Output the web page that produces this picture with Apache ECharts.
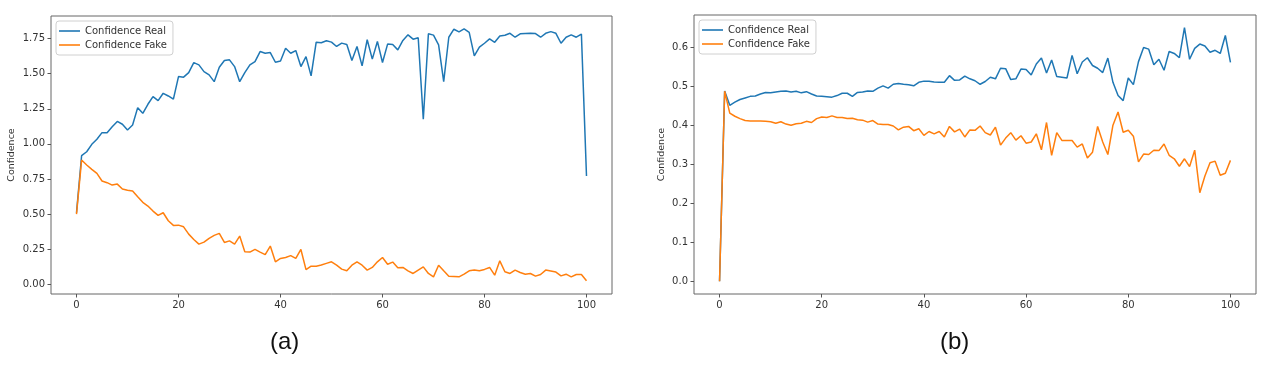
<!DOCTYPE html>
<html>
<head>
<meta charset="utf-8">
<script src="https://cdn.jsdelivr.net/npm/echarts@6/dist/echarts.min.js"></script>
<style>
html,body{margin:0;padding:0;background:#fff;}
#chart{width:1266px;height:369px;}
</style>
</head>
<body>
<div id="chart"></div>
<script>
const epochs = Array.from({length: 101}, (_, i) => i);
const xTicks = [0, 20, 40, 60, 80, 100];
const yTicksA = [0, 0.25, 0.5, 0.75, 1.0, 1.25, 1.5, 1.75];
const yTicksB = [0, 0.1, 0.2, 0.3, 0.4, 0.5, 0.6];
const seriesNames = ['Confidence Real', 'Confidence Fake'];
const panelLabels = ['(a)', '(b)'];

const realA = [0.51,0.916,0.944,0.997,1.033,1.08,1.08,1.122,1.16,1.14,
1.099,1.134,1.258,1.218,1.282,1.336,1.308,1.36,1.341,1.318,
1.479,1.475,1.507,1.578,1.562,1.514,1.491,1.443,1.545,1.593,
1.598,1.55,1.443,1.507,1.562,1.585,1.657,1.645,1.65,1.581,
1.59,1.68,1.645,1.664,1.55,1.621,1.484,1.724,1.72,1.734,
1.724,1.693,1.717,1.707,1.593,1.693,1.555,1.741,1.603,1.729,
1.579,1.71,1.707,1.669,1.736,1.776,1.745,1.755,1.175,1.783,
1.774,1.705,1.443,1.759,1.816,1.797,1.818,1.794,1.626,1.688,
1.716,1.747,1.723,1.768,1.773,1.787,1.759,1.783,1.785,1.787,
1.785,1.759,1.787,1.799,1.787,1.716,1.759,1.776,1.759,1.781,
0.771];

const fakeA = [0.50,0.885,0.85,0.819,0.79,0.736,0.724,0.707,0.714,0.679,
0.67,0.665,0.624,0.584,0.558,0.522,0.491,0.51,0.453,0.42,
0.422,0.41,0.358,0.32,0.287,0.301,0.328,0.349,0.363,0.299,
0.31,0.287,0.344,0.232,0.23,0.249,0.23,0.212,0.273,0.161,
0.185,0.192,0.205,0.185,0.249,0.105,0.13,0.13,0.138,0.15,
0.161,0.137,0.109,0.097,0.137,0.161,0.137,0.102,0.121,0.161,
0.192,0.144,0.159,0.118,0.121,0.097,0.078,0.102,0.125,0.078,
0.054,0.137,0.097,0.059,0.057,0.054,0.073,0.097,0.102,0.097,
0.107,0.121,0.066,0.168,0.09,0.078,0.102,0.085,0.073,0.078,
0.059,0.071,0.102,0.095,0.088,0.061,0.073,0.054,0.071,0.071,
0.026];

const realB = [0.0,0.488,0.451,0.459,0.466,0.47,0.474,0.475,0.48,0.484,
0.483,0.485,0.487,0.488,0.485,0.487,0.483,0.486,0.48,0.475,
0.474,0.473,0.472,0.476,0.482,0.482,0.474,0.484,0.485,0.488,
0.487,0.495,0.501,0.495,0.505,0.507,0.505,0.504,0.501,0.51,
0.513,0.513,0.511,0.51,0.51,0.527,0.515,0.516,0.526,0.519,
0.514,0.505,0.512,0.523,0.519,0.546,0.545,0.517,0.519,0.544,
0.543,0.529,0.557,0.572,0.534,0.567,0.525,0.523,0.521,0.579,
0.532,0.562,0.573,0.553,0.546,0.535,0.572,0.51,0.476,0.463,
0.521,0.504,0.563,0.599,0.595,0.555,0.569,0.541,0.589,0.584,
0.573,0.65,0.569,0.597,0.608,0.603,0.587,0.592,0.584,0.63,
0.561];

const fakeB = [0.0,0.487,0.431,0.423,0.417,0.412,0.411,0.411,0.411,0.41,
0.409,0.405,0.409,0.403,0.4,0.404,0.405,0.41,0.407,0.417,
0.421,0.42,0.424,0.42,0.42,0.417,0.418,0.414,0.413,0.408,
0.412,0.403,0.402,0.402,0.398,0.388,0.395,0.397,0.386,0.391,
0.374,0.384,0.378,0.384,0.37,0.397,0.383,0.39,0.37,0.388,
0.387,0.398,0.381,0.375,0.395,0.349,0.367,0.381,0.362,0.373,
0.354,0.357,0.378,0.337,0.407,0.323,0.381,0.361,0.361,0.361,
0.344,0.352,0.316,0.331,0.397,0.357,0.325,0.4,0.434,0.382,
0.387,0.372,0.306,0.326,0.325,0.336,0.335,0.352,0.323,0.314,
0.295,0.314,0.294,0.336,0.227,0.27,0.304,0.308,0.272,0.277,
0.31];

const BLUE = '#1f77b4', ORANGE = '#ff7f0e';
const TXT = '#333';
const FONT = 'DejaVu Sans';

function pairs(vals) { return epochs.map((x, i) => [x, vals[i]]); }

function xAxisCfg(gi) {
  return {
    type: 'value', gridIndex: gi, min: -5, max: 105, position: 'bottom',
    axisLine: {show: false, onZero: false},
    splitLine: {show: false},
    axisTick: {show: true, inside: false, length: 3.5, customValues: xTicks,
               lineStyle: {color: '#555', width: 1}},
    axisLabel: {customValues: xTicks, margin: 6, color: TXT, fontSize: 10, fontFamily: FONT}
  };
}
function yAxisCfg(gi, min, max, ticks, dec, gap) {
  return {
    type: 'value', gridIndex: gi, min: min, max: max, position: 'left',
    name: 'Confidence', nameLocation: 'middle', nameGap: gap, nameRotate: 90,
    nameTextStyle: {color: TXT, fontSize: 9.5, fontFamily: FONT},
    axisLine: {show: false, onZero: false},
    splitLine: {show: false},
    axisTick: {show: true, inside: false, length: 3.5, customValues: ticks,
               lineStyle: {color: '#555', width: 1}},
    axisLabel: {customValues: ticks, margin: 6, color: TXT, fontSize: 10, fontFamily: FONT,
                formatter: v => Number(v).toFixed(dec)}
  };
}
function lineSeries(name, color, xi, data) {
  return {
    type: 'line', name: name, xAxisIndex: xi, yAxisIndex: xi,
    data: pairs(data), showSymbol: false, symbol: 'none',
    lineStyle: {color: color, width: 1.5}, itemStyle: {color: color},
    animation: false, z: 3
  };
}
function legendCfg(left, top) {
  return {
    orient: 'vertical', left: left, top: top,
    data: seriesNames, icon: 'rect', itemWidth: 21, itemHeight: 1.6, itemGap: 2,
    padding: [4, 6, 4, 3],
    backgroundColor: '#fff', borderColor: '#d0d0d0', borderWidth: 1, borderRadius: 3,
    textStyle: {color: TXT, fontSize: 10, fontFamily: FONT, lineHeight: 12},
    selectedMode: false
  };
}

const chart = echarts.init(document.getElementById('chart'), null, {renderer: 'canvas'});
chart.setOption({
  backgroundColor: '#fff',
  animation: false,
  color: [BLUE, ORANGE],
  grid: [
    {left: 51, top: 16, width: 561, height: 278, show: true, borderColor: '#666', borderWidth: 1, containLabel: false},
    {left: 694, top: 15, width: 562, height: 279, show: true, borderColor: '#666', borderWidth: 1, containLabel: false}
  ],
  xAxis: [xAxisCfg(0), xAxisCfg(1)],
  yAxis: [
    yAxisCfg(0, -0.068, 1.910, yTicksA, 2, 34),
    yAxisCfg(1, -0.0325, 0.6825, yTicksB, 1, 27)
  ],
  legend: [legendCfg(56, 21), legendCfg(699, 20)],
  series: [
    lineSeries(seriesNames[0], BLUE, 0, realA),
    lineSeries(seriesNames[1], ORANGE, 0, fakeA),
    lineSeries(seriesNames[0], BLUE, 1, realB),
    lineSeries(seriesNames[1], ORANGE, 1, fakeB)
  ],
  graphic: [
    {type: 'text', left: 270, top: 330, style: {text: panelLabels[0], font: '24px "Liberation Sans"', fill: '#111'}},
    {type: 'text', left: 940, top: 330, style: {text: panelLabels[1], font: '24px "Liberation Sans"', fill: '#111'}}
  ]
});
</script>
</body>
</html>
